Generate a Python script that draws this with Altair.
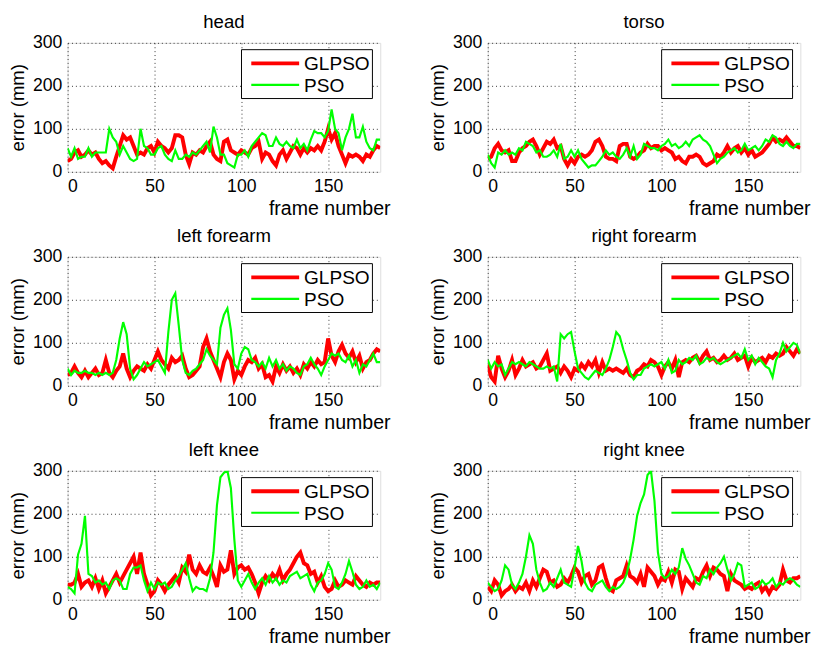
import altair as alt
import pandas as pd

frames = list(range(0, 181, 2))
methods = ["GLPSO", "PSO"]
parts = ["head", "torso", "left forearm", "right forearm", "left knee", "right knee"]
x_ticks = [0, 50, 100, 150]
y_ticks = [0, 100, 200, 300]

head_glpso = [25,30,45,50,35,40,50,40,45,30,
              20,25,15,8,35,60,85,75,80,60,
              40,45,40,55,60,45,70,60,55,45,
              55,85,85,80,40,18,45,40,50,45,
              60,70,40,30,25,70,75,50,45,40,
              50,45,40,55,60,70,30,45,40,25,
              15,40,50,30,45,60,55,40,55,45,
              55,50,60,50,70,100,75,90,60,40,
              20,40,35,40,35,25,40,35,50,60,
              55]
head_pso = [55,35,55,30,35,35,55,35,45,45,
            45,45,100,80,70,40,60,45,30,25,
            30,100,60,55,40,40,55,60,40,30,
            25,50,30,30,40,35,45,40,50,60,
            70,45,105,80,40,40,20,15,10,40,
            40,50,35,60,70,80,90,85,60,60,
            80,65,60,70,60,55,75,55,65,50,
            75,95,90,90,80,95,145,100,90,50,
            80,100,135,80,80,105,70,55,50,75,
            75]
torso_glpso = [30,35,55,65,50,45,50,25,25,45,
               55,60,70,75,60,40,55,70,65,75,
               55,60,30,15,30,20,35,40,35,40,
               50,70,75,60,35,30,30,25,60,65,
               65,35,30,35,45,50,65,55,60,60,
               50,55,50,45,30,35,25,20,35,35,
               40,35,20,15,20,25,40,35,45,60,
               45,55,60,45,55,40,50,35,40,45,
               55,65,80,70,75,70,80,70,60,60,
               55]
torso_pso = [40,20,10,45,40,50,40,45,40,55,
             50,70,65,60,45,50,35,35,40,50,
             35,65,30,35,50,35,50,30,20,10,
             15,15,25,35,50,40,45,35,30,40,
             55,35,60,30,40,65,60,55,55,50,
             60,65,75,60,65,55,60,70,60,75,
             80,85,75,70,60,40,20,30,35,45,
             50,55,45,50,65,50,55,60,50,60,
             75,70,85,80,65,60,70,60,55,65,
             65]
lforearm_glpso = [25,30,45,30,20,35,20,30,40,25,
                  30,60,30,20,35,45,75,40,20,35,
                  45,40,35,50,40,60,80,60,50,40,
                  65,55,60,70,40,20,25,35,45,90,
                  110,80,60,40,20,55,75,60,15,35,
                  25,45,60,55,65,40,50,20,25,10,
                  45,30,50,35,45,30,40,25,50,40,
                  55,45,60,50,55,110,70,55,80,95,
                  75,65,80,55,70,40,55,60,75,85,
                  80]
lforearm_pso = [40,25,35,30,30,35,30,30,25,30,
                25,30,25,30,60,110,148,120,40,15,
                25,40,55,45,50,55,60,45,30,125,
                200,215,140,60,30,25,35,40,50,60,
                85,70,60,50,135,165,180,130,50,40,
                75,90,85,60,55,45,55,40,65,45,
                60,40,50,35,45,40,30,25,45,50,
                65,50,40,25,45,60,75,70,75,60,
                55,70,45,60,30,50,45,60,75,55,
                55]
rforearm_glpso = [50,20,10,70,40,20,35,60,25,40,
                  60,45,50,55,40,45,60,75,35,40,
                  45,30,45,35,20,40,35,50,40,55,
                  45,60,30,55,35,40,35,40,35,30,
                  40,25,20,35,40,50,45,60,55,45,
                  25,45,55,40,60,20,55,60,55,65,
                  70,55,70,80,60,65,55,60,70,60,
                  65,75,60,65,70,45,65,55,60,65,
                  55,70,65,75,70,75,90,80,70,85,
                  75]
rforearm_pso = [60,40,55,45,50,25,40,55,50,55,
                50,45,55,50,45,40,40,45,40,45,
                10,120,110,120,125,80,40,30,20,15,
                25,35,30,25,40,60,90,125,115,85,
                60,30,15,25,25,40,45,50,45,50,
                55,40,60,30,35,60,50,55,65,60,
                70,50,55,65,60,65,55,50,55,60,
                65,70,75,65,85,60,70,50,65,55,
                45,40,20,60,75,100,80,90,100,95,
                75]
lknee_glpso = [35,35,40,60,30,40,45,30,50,25,
               45,15,30,45,60,40,55,70,85,100,
               60,110,60,35,10,20,45,35,20,35,
               45,55,40,75,65,105,70,60,80,65,
               60,75,55,30,80,65,70,115,60,75,
               80,70,75,60,40,15,40,55,45,60,
               50,70,45,60,70,85,100,110,85,80,
               60,65,40,55,30,20,25,45,30,35,
               45,40,35,55,45,35,30,40,35,40,
               40]
lknee_pso = [30,25,15,105,130,195,60,55,40,45,
             35,40,25,45,50,45,25,25,60,75,
             75,80,45,20,40,25,40,35,40,25,
             30,45,55,70,85,50,20,30,25,25,
             20,50,110,220,285,295,300,260,140,45,
             30,45,60,40,25,40,50,35,55,40,
             50,35,45,40,55,60,65,50,55,60,
             35,20,40,45,60,85,70,30,25,40,
             60,90,65,35,25,30,45,30,35,25,
             40]
rknee_glpso = [30,20,45,35,10,20,25,35,20,30,
               25,40,20,45,30,50,70,65,40,45,
               30,35,50,40,55,75,65,40,55,60,
               35,45,75,80,50,25,20,45,50,55,
               80,55,50,40,60,30,75,65,55,35,
               50,45,65,40,70,65,25,50,40,30,
               50,45,65,80,55,75,70,60,55,20,
               60,45,40,35,25,30,25,35,40,20,
               30,15,30,25,35,70,45,40,50,50,
               55]
rknee_pso = [40,30,20,25,45,80,70,35,25,40,
             60,100,150,130,70,40,20,25,40,30,
             50,70,40,35,30,75,125,90,40,25,
             20,35,40,45,30,20,30,25,30,40,
             60,95,140,195,225,245,290,300,230,110,
             60,50,55,70,60,75,120,95,80,60,
             40,35,55,50,70,60,75,85,100,70,
             45,60,85,80,30,35,40,25,30,45,
             35,40,50,30,40,35,45,50,45,35,
             30]

series = {
    "head": (head_glpso, head_pso),
    "torso": (torso_glpso, torso_pso),
    "left forearm": (lforearm_glpso, lforearm_pso),
    "right forearm": (rforearm_glpso, rforearm_pso),
    "left knee": (lknee_glpso, lknee_pso),
    "right knee": (rknee_glpso, rknee_pso),
}

W, H = 320, 132
FONT = "Liberation Sans"
RED = "#ff0000"
GREEN = "#00ff00"


def panel(name):
    g, p = series[name]
    df = pd.DataFrame({
        "frame": frames * 2,
        "error": g + p,
        "method": [methods[0]] * len(frames) + [methods[1]] * len(frames),
    })
    x = alt.X("frame:Q", scale=alt.Scale(domain=[0, 180], nice=False),
              axis=alt.Axis(values=x_ticks, title="frame number", ticks=False, domain=False,
                            labelFontSize=18, labelPadding=6, labelFont=FONT, labelColor="black",
                            titleFont=FONT, titleFontSize=20, titleFontWeight="normal",
                            titleColor="black", titleX=W + 10, titleY=44, titleAlign="right",
                            titleBaseline="alphabetic",
                            grid=True, gridDash=[1, 3], gridColor="#333", gridOpacity=1))
    y = alt.Y("error:Q", scale=alt.Scale(domain=[0, 300], nice=False),
              axis=alt.Axis(values=y_ticks, title="error (mm)", ticks=False, domain=False,
                            labelFontSize=18, labelPadding=6, labelFont=FONT, labelColor="black",
                            titleFont=FONT, titleFontSize=19, titleFontWeight="normal",
                            titleColor="black", titleX=-45, titleY=H / 2,
                            titleBaseline="alphabetic",
                            grid=True, gridDash=[1, 3], gridColor="#333", gridOpacity=1))
    base = alt.Chart(df)
    red = base.transform_filter(alt.datum.method == methods[0]).mark_line(
        color=RED, strokeWidth=4, clip=True).encode(x=x, y=y)
    green = base.transform_filter(alt.datum.method == methods[1]).mark_line(
        color=GREEN, strokeWidth=2.2, clip=True).encode(x=x, y=y)
    one = pd.DataFrame({"k": [0]})
    box = alt.Chart(one).mark_rect(fill="white", stroke="black", strokeWidth=1).encode(
        x=alt.value(178), x2=alt.value(312), y=alt.value(7), y2=alt.value(57))
    k1 = alt.Chart(one).mark_rule(color=RED, strokeWidth=4).encode(
        x=alt.value(188), x2=alt.value(237), y=alt.value(21))
    k2 = alt.Chart(one).mark_rule(color=GREEN, strokeWidth=2.2).encode(
        x=alt.value(188), x2=alt.value(237), y=alt.value(43))
    t1 = alt.Chart(one).mark_text(text=methods[0], align="left", baseline="middle",
                                  fontSize=19.5, font=FONT, color="black").encode(
        x=alt.value(242), y=alt.value(22))
    t2 = alt.Chart(one).mark_text(text=methods[1], align="left", baseline="middle",
                                  fontSize=19.5, font=FONT, color="black").encode(
        x=alt.value(242), y=alt.value(44))
    ttl = alt.Chart(one).mark_text(text=name, align="center", baseline="alphabetic",
                                   fontSize=19, font=FONT, color="black").encode(
        x=alt.value(W / 2), y=alt.value(-15))
    return alt.layer(red, green, box, k1, k2, t1, t2, ttl).properties(width=W, height=H)


rows = []
for i in range(0, 6, 2):
    rows.append(alt.hconcat(panel(parts[i]), panel(parts[i + 1]), spacing=38))

chart = alt.vconcat(*rows, spacing=7).properties(
    padding={"left": 0, "top": -3, "right": 5, "bottom": 5}
).configure_view(
    stroke="black", strokeWidth=1
).configure(background="white")

chart.save("out.html", embed_options={"renderer": "svg", "actions": False})
